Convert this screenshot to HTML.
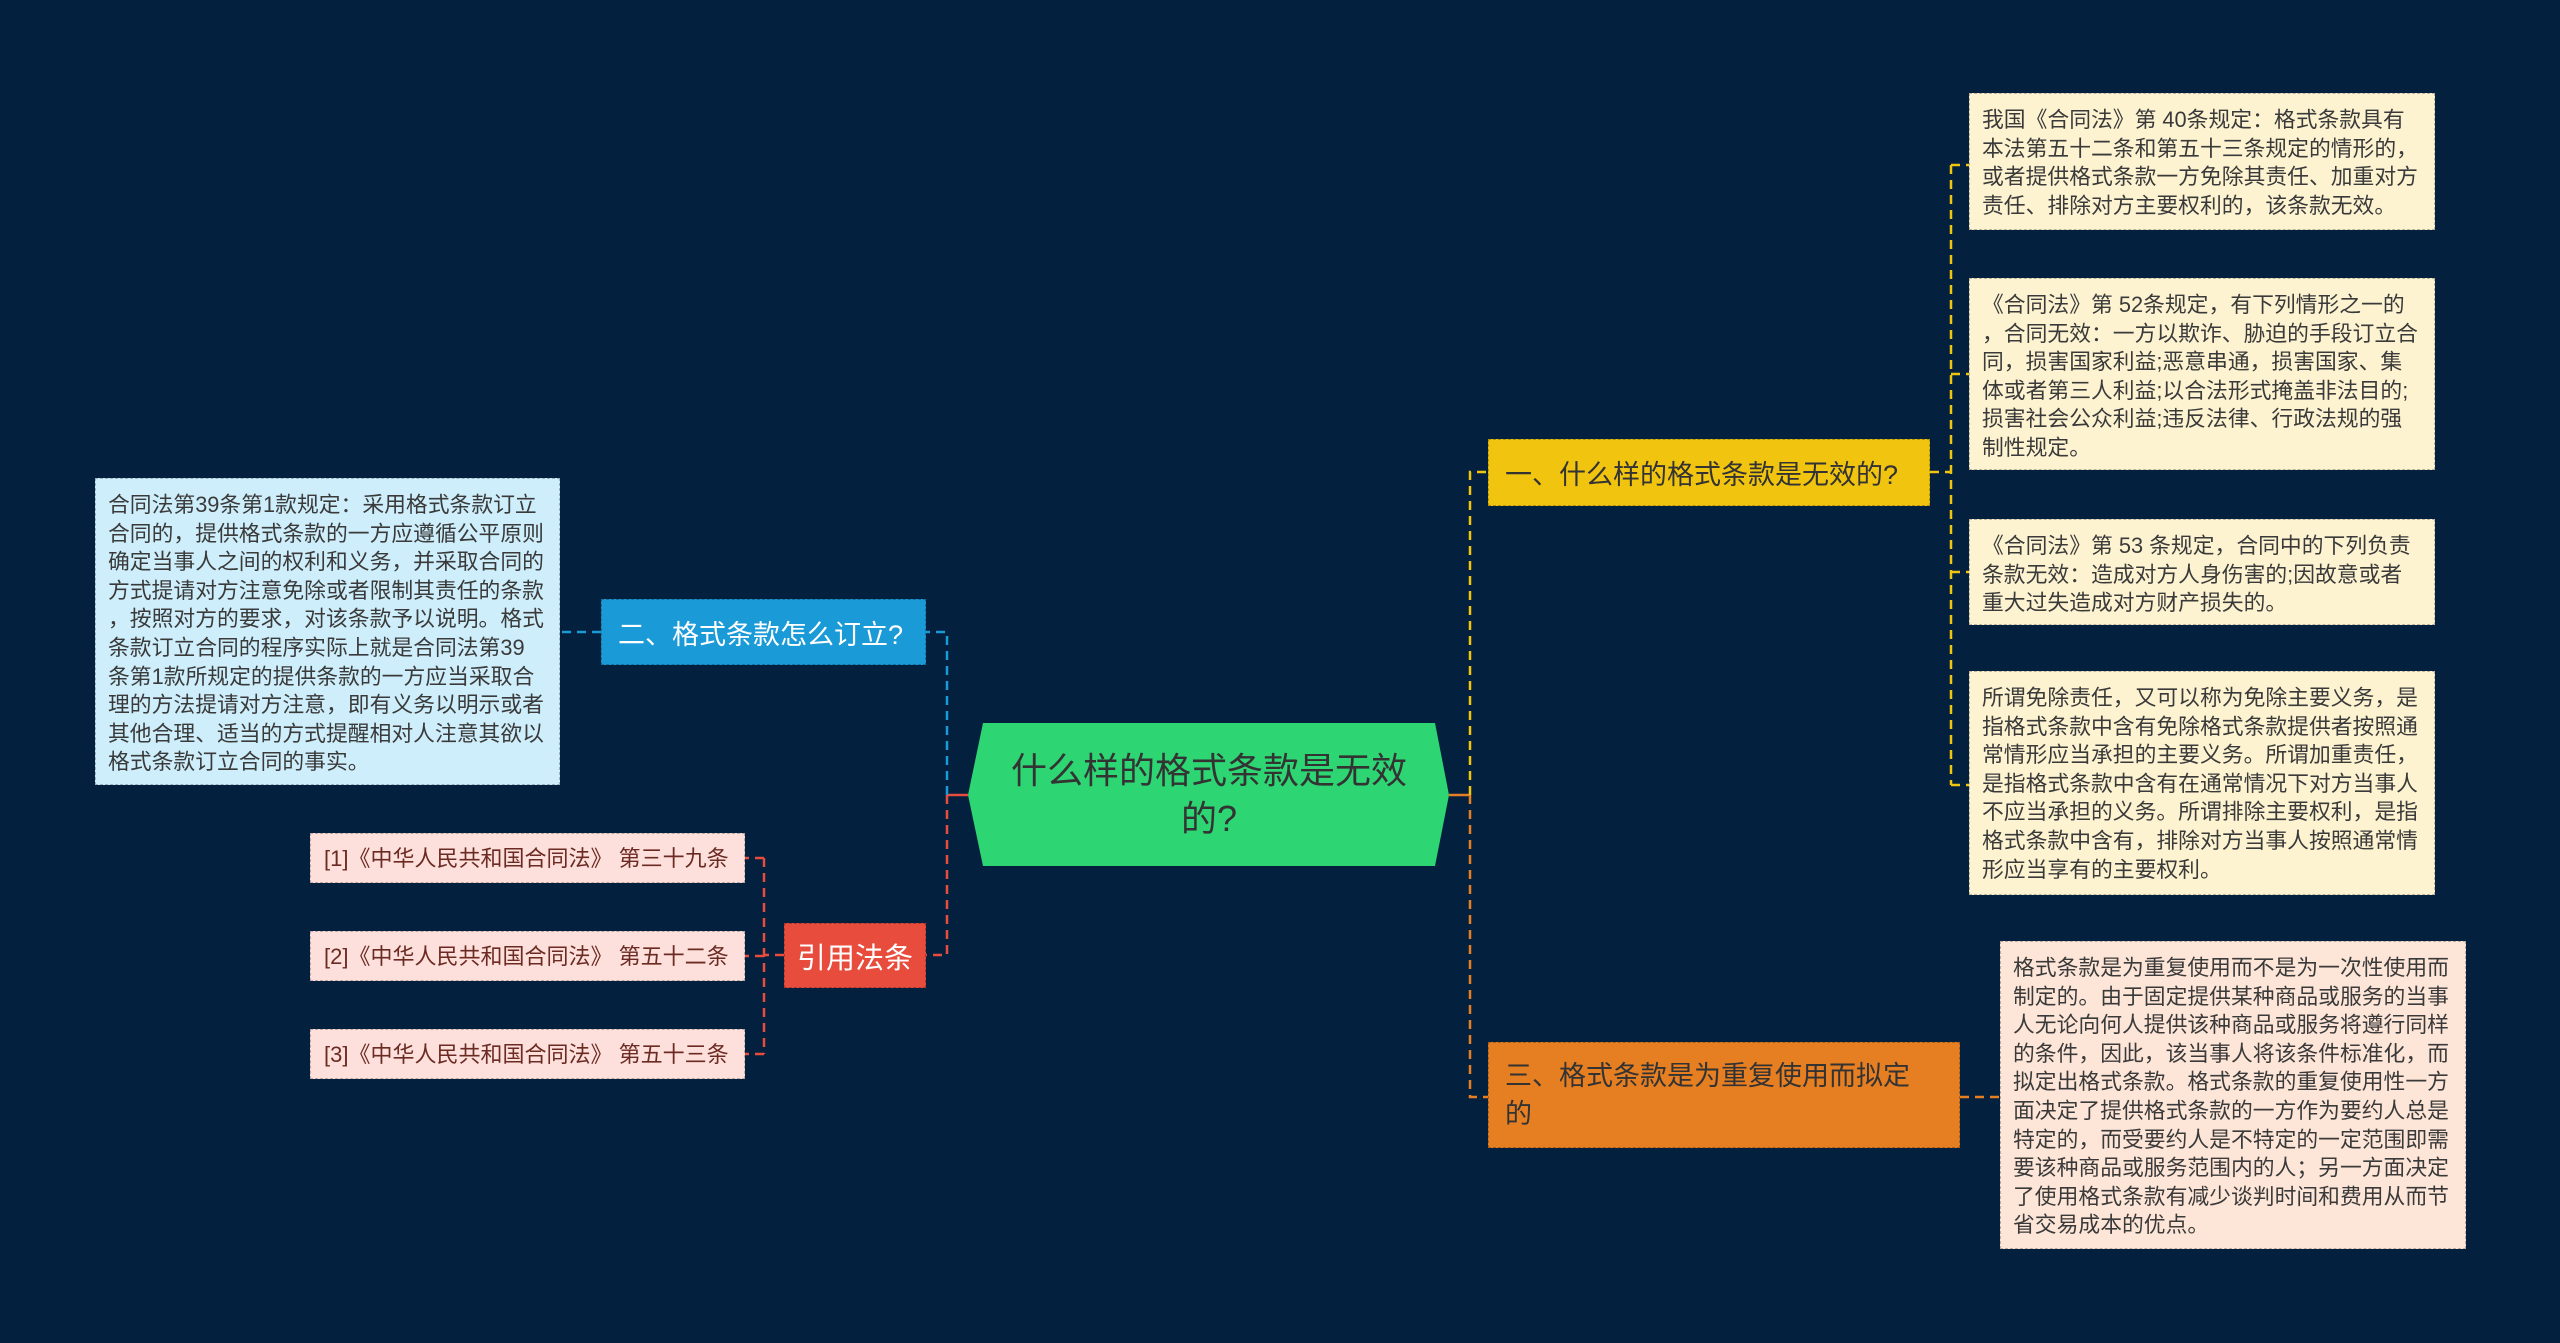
<!DOCTYPE html>
<html><head><meta charset="utf-8"><style>
body{margin:0;width:2560px;height:1343px;background:#03203f;overflow:hidden;position:relative;font-family:"Liberation Sans","Noto Sans CJK SC",sans-serif;}
.n{position:absolute;box-sizing:border-box;}
.leaf{font-size:21.8px;line-height:28.6px;color:#3a3a3a;padding:12px 12px;white-space:nowrap;border:1.5px dashed rgba(0,0,0,0.25);}
.y{background:#fdf3d1;}
.o{background:#fde6d8;}
.b{background:#cdeefa;}
.p{background:#fde0dc;font-size:22px;line-height:50px;padding:0 0 0 13px;color:#6b2a22;}
.t{font-size:27px;display:flex;align-items:center;padding:0 16px;border:1.5px dashed rgba(0,0,0,0.25);}
</style></head><body>
<svg class="n" style="left:0;top:0" width="2560" height="1343">
<g fill="none" stroke-width="2.5" stroke-dasharray="9,6">
<path d="M1449 795 H1470" stroke="#e67e22" stroke-dasharray="none"/>
<path d="M1470 795 V472 H1488" stroke="#f1c40f"/>
<path d="M1470 795 V1097 H1488" stroke="#e67e22"/>
<path d="M1930 472 H1951 M1951 165 V785 M1951 165 H1969 M1951 374 H1969 M1951 572 H1969 M1951 785 H1969" stroke="#f1c40f"/>
<path d="M1960 1097 H2000" stroke="#e67e22"/>
<path d="M968 795 H947" stroke="#e74c3c" stroke-dasharray="none"/>
<path d="M947 795 V632 H926" stroke="#1a9ad6"/>
<path d="M947 795 V955 H926" stroke="#e74c3c"/>
<path d="M601 632 H560" stroke="#1a9ad6"/>
<path d="M784 955 H764 M764 858 V1054 M764 858 H745 M764 956 H745 M764 1054 H745" stroke="#e74c3c"/>
</g>
<polygon points="968,795 983,723 1435,723 1449,795 1435,866 983,866" fill="#2ed573"/>
</svg>
<div class="n" style="left:983px;top:723px;width:452px;height:143px;display:flex;align-items:center;justify-content:center;text-align:center;font-size:36px;line-height:48px;color:#333;">什么样的格式条款是无效<br>的?</div>
<div class="n t" style="left:1488px;top:439px;width:442px;height:67px;background:#f1c40f;color:#333;">一、什么样的格式条款是无效的?</div>
<div class="n t" style="left:1488px;top:1042px;width:472px;height:106px;background:#e67e22;color:#333;line-height:38px;align-items:center;">三、格式条款是为重复使用而拟定<br>的</div>
<div class="n t" style="left:601px;top:599px;width:325px;height:66px;background:#1a9ad6;color:#fff;">二、格式条款怎么订立?</div>
<div class="n t" style="left:784px;top:923px;width:142px;height:65px;background:#e74c3c;color:#fff;justify-content:center;padding:0;font-size:29px;">引用法条</div>

<div class="n leaf y" style="left:1969px;top:93px;width:466px;height:137px;">我国《合同法》第 40条规定：格式条款具有<br>本法第五十二条和第五十三条规定的情形的，<br>或者提供格式条款一方免除其责任、加重对方<br>责任、排除对方主要权利的，该条款无效。</div>
<div class="n leaf y" style="left:1969px;top:278px;width:466px;height:192px;">《合同法》第 52条规定，有下列情形之一的<br>，合同无效：一方以欺诈、胁迫的手段订立合<br>同，损害国家利益;恶意串通，损害国家、集<br>体或者第三人利益;以合法形式掩盖非法目的;<br>损害社会公众利益;违反法律、行政法规的强<br>制性规定。</div>
<div class="n leaf y" style="left:1969px;top:519px;width:466px;height:106px;">《合同法》第 53 条规定，合同中的下列负责<br>条款无效：造成对方人身伤害的;因故意或者<br>重大过失造成对方财产损失的。</div>
<div class="n leaf y" style="left:1969px;top:671px;width:466px;height:224px;">所谓免除责任，又可以称为免除主要义务，是<br>指格式条款中含有免除格式条款提供者按照通<br>常情形应当承担的主要义务。所谓加重责任，<br>是指格式条款中含有在通常情况下对方当事人<br>不应当承担的义务。所谓排除主要权利，是指<br>格式条款中含有，排除对方当事人按照通常情<br>形应当享有的主要权利。</div>
<div class="n leaf o" style="left:2000px;top:941px;width:466px;height:308px;">格式条款是为重复使用而不是为一次性使用而<br>制定的。由于固定提供某种商品或服务的当事<br>人无论向何人提供该种商品或服务将遵行同样<br>的条件，因此，该当事人将该条件标准化，而<br>拟定出格式条款。格式条款的重复使用性一方<br>面决定了提供格式条款的一方作为要约人总是<br>特定的，而受要约人是不特定的一定范围即需<br>要该种商品或服务范围内的人；另一方面决定<br>了使用格式条款有减少谈判时间和费用从而节<br>省交易成本的优点。</div>
<div class="n leaf b" style="left:95px;top:478px;width:465px;height:307px;">合同法第39条第1款规定：采用格式条款订立<br>合同的，提供格式条款的一方应遵循公平原则<br>确定当事人之间的权利和义务，并采取合同的<br>方式提请对方注意免除或者限制其责任的条款<br>，按照对方的要求，对该条款予以说明。格式<br>条款订立合同的程序实际上就是合同法第39<br>条第1款所规定的提供条款的一方应当采取合<br>理的方法提请对方注意，即有义务以明示或者<br>其他合理、适当的方式提醒相对人注意其欲以<br>格式条款订立合同的事实。</div>
<div class="n leaf p" style="left:310px;top:833px;width:435px;height:50px;">[1]《中华人民共和国合同法》 第三十九条</div>
<div class="n leaf p" style="left:310px;top:931px;width:435px;height:50px;">[2]《中华人民共和国合同法》 第五十二条</div>
<div class="n leaf p" style="left:310px;top:1029px;width:435px;height:50px;">[3]《中华人民共和国合同法》 第五十三条</div>
</body></html>
